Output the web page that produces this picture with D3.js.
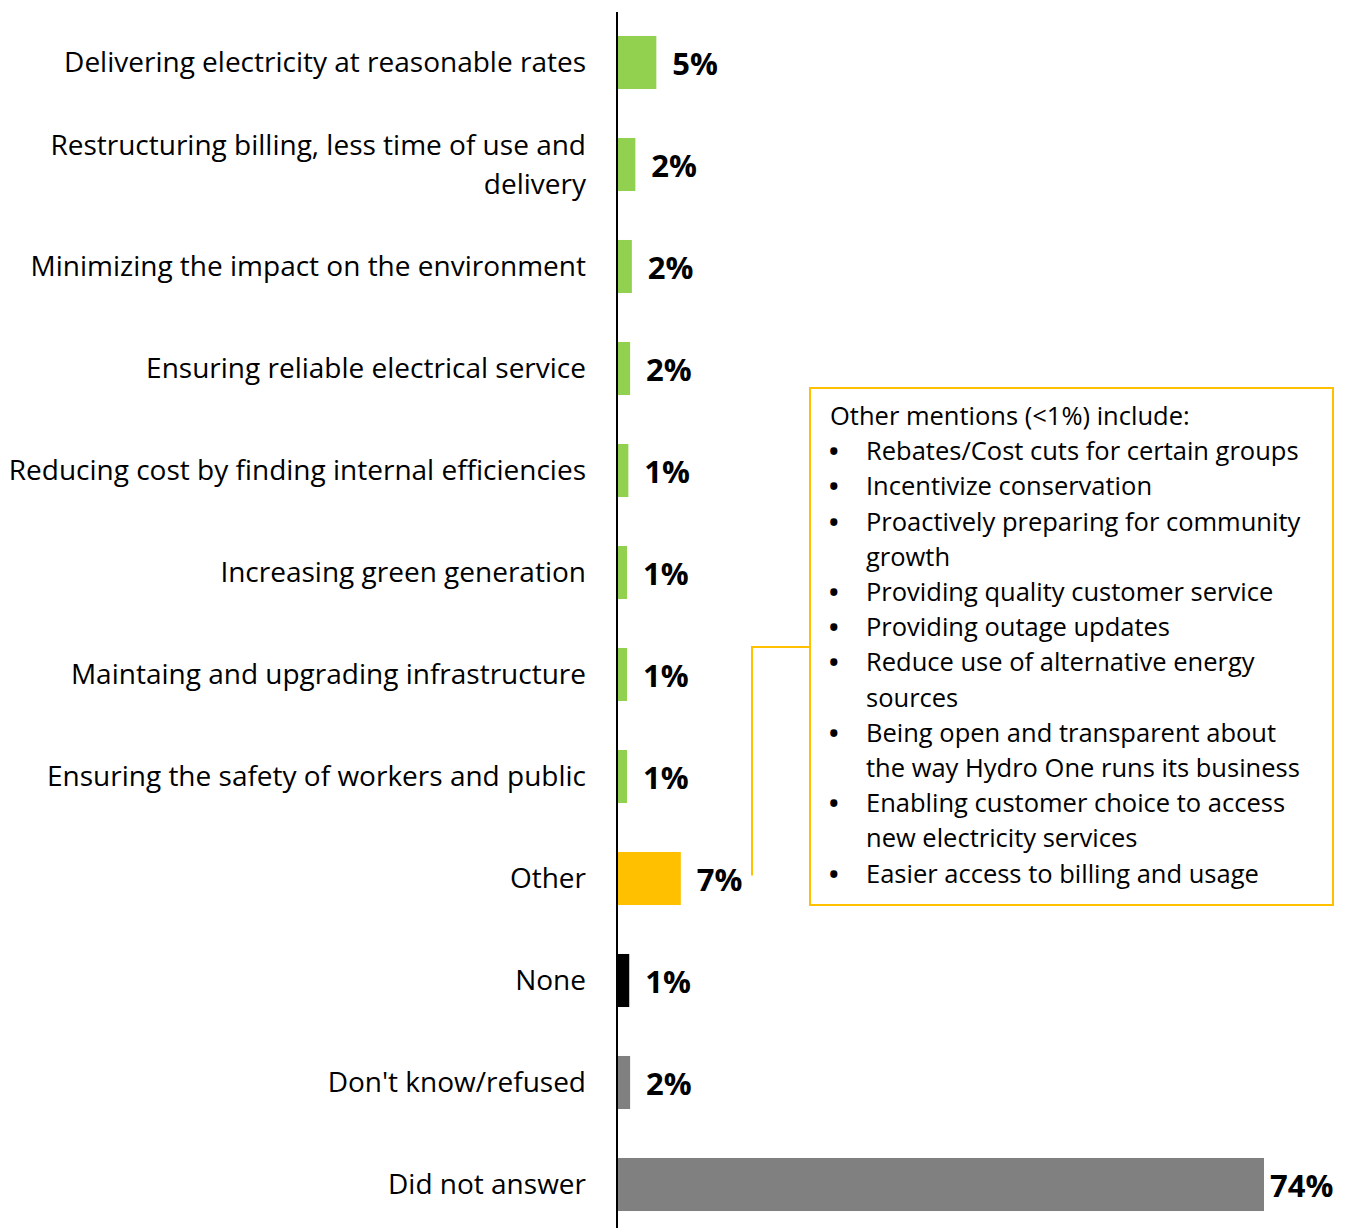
<!DOCTYPE html>
<html>
<head>
<meta charset="utf-8">
<script src="https://cdn.jsdelivr.net/npm/d3@7"></script>
<style>
  body { margin: 0; background: #fff; }
  svg { display: block; font-family: "Open Sans", Lato, sans-serif; }
</style>
</head>
<body>
<script>
// categories and values
const categories = [
  "Delivering electricity at reasonable rates",
  "Restructuring billing, less time of use and\ndelivery",
  "Minimizing the impact on the environment",
  "Ensuring reliable electrical service",
  "Reducing cost by finding internal efficiencies",
  "Increasing green generation",
  "Maintaing and upgrading infrastructure",
  "Ensuring the safety of workers and public",
  "Other",
  "None",
  "Don't know/refused",
  "Did not answer"
];
const values = [4.5, 2.1, 1.7, 1.5, 1.3, 1.15, 1.15, 1.15, 7.3, 1.4, 1.5, 74];
const valueLabels = ["5%", "2%", "2%", "2%", "1%", "1%", "1%", "1%", "7%", "1%", "2%", "74%"];
const barColors = ["#92D050", "#92D050", "#92D050", "#92D050", "#92D050", "#92D050",
  "#92D050", "#92D050", "#FFC000", "#000000", "#808080", "#808080"];

const noteTitle = "Other mentions (<1%) include:";
const noteItems = [
  "Rebates/Cost cuts for certain groups",
  "Incentivize conservation",
  "Proactively preparing for community\ngrowth",
  "Providing quality customer service",
  "Providing outage updates",
  "Reduce use of alternative energy\nsources",
  "Being open and transparent about\nthe way Hydro One runs its business",
  "Enabling customer choice to access\nnew electricity services",
  "Easier access to billing and usage"
];

const width = 1348, height = 1228;
const svg = d3.select("body").append("svg")
  .attr("width", width)
  .attr("height", height);

const y = d3.scaleBand()
  .domain(categories)
  .range([11.5, 11.5 + 102 * categories.length])
  .paddingInner(0.48)
  .paddingOuter(0.24);

const x = d3.scaleLinear()
  .domain([0, 74])
  .range([617, 1264]);

// bars
svg.selectAll("rect.bar")
  .data(categories)
  .enter()
  .append("rect")
  .attr("class", "bar")
  .attr("x", x(0))
  .attr("y", d => y(d))
  .attr("width", (d, i) => x(values[i]) - x(0))
  .attr("height", y.bandwidth())
  .attr("fill", (d, i) => barColors[i]);

// vertical axis line
svg.append("line")
  .attr("x1", x(0)).attr("x2", x(0))
  .attr("y1", 12).attr("y2", height)
  .attr("stroke", "#000")
  .attr("stroke-width", 2);

// category labels (right aligned, can wrap to two lines)
const cat = svg.selectAll("text.cat")
  .data(categories)
  .enter()
  .append("text")
  .attr("class", "cat")
  .attr("text-anchor", "end")
  .attr("font-size", 28)
  .attr("fill", "#000");

cat.each(function (d) {
  const lines = d.split("\n");
  const cy = y(d) + y.bandwidth() / 2;
  const lh = 39;
  const top = cy - (lines.length - 1) * lh / 2;
  d3.select(this).selectAll("tspan")
    .data(lines)
    .enter()
    .append("tspan")
    .attr("x", 586)
    .attr("y", (l, j) => top + j * lh)
    .attr("dy", "0.35em")
    .text(l => l);
});

// value labels
svg.selectAll("text.val")
  .data(categories)
  .enter()
  .append("text")
  .attr("class", "val")
  .attr("font-size", 31)
  .attr("font-weight", "bold")
  .attr("dy", "0.36em")
  .attr("y", d => y(d) + y.bandwidth() / 2 + 1)
  .attr("x", (d, i) => Math.min(x(values[i]) + 16, 1270))
  .text((d, i) => valueLabels[i]);

// note box for "Other"
const box = { x: 810, y: 388, w: 523, h: 517 };
svg.append("rect")
  .attr("x", box.x).attr("y", box.y)
  .attr("width", box.w).attr("height", box.h)
  .attr("fill", "none")
  .attr("stroke", "#FFC000")
  .attr("stroke-width", 2);

// connector from the Other bar label to the box
const otherY = y("Other") + y.bandwidth() / 2;
svg.append("path")
  .attr("d", `M${box.x},647 H752 V${otherY - 3}`)
  .attr("fill", "none")
  .attr("stroke", "#FFC000")
  .attr("stroke-width", 2);

const lineH = 35.2;
const noteSize = 25.5;
let row = 0;
svg.append("text")
  .attr("x", 830)
  .attr("y", 416 + row * lineH)
  .attr("dy", "0.35em")
  .attr("font-size", noteSize)
  .text(noteTitle);
row++;

noteItems.forEach(item => {
  svg.append("text")
    .attr("x", 829)
    .attr("y", 416 + row * lineH)
    .attr("dy", "0.35em")
    .attr("font-size", noteSize)
    .attr("font-weight", "bold")
    .text("\u2022");
  item.split("\n").forEach(part => {
    svg.append("text")
      .attr("x", 866)
      .attr("y", 416 + row * lineH)
      .attr("dy", "0.35em")
      .attr("font-size", noteSize)
      .text(part);
    row++;
  });
});
</script>
</body>
</html>
